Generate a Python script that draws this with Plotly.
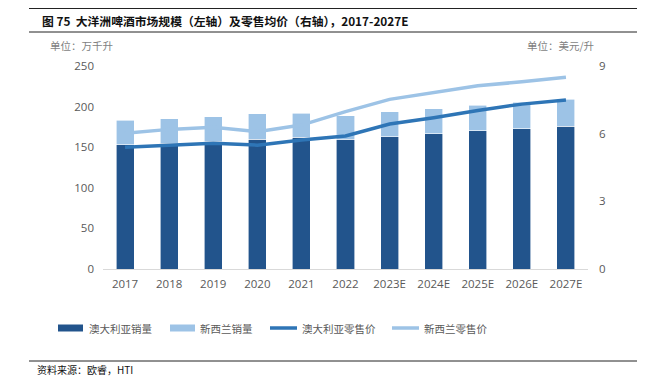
import plotly.graph_objects as go

years = ["2017", "2018", "2019", "2020", "2021", "2022", "2023E", "2024E", "2025E", "2026E", "2027E"]
au_volume = [153, 155, 157.5, 160, 162, 159.5, 163, 166.5, 170, 173, 176]
nz_volume = [30.5, 30, 30, 31, 30, 29.5, 30.5, 31, 31.5, 32.5, 33]
au_price = [5.40, 5.47, 5.57, 5.49, 5.72, 5.90, 6.43, 6.71, 7.03, 7.31, 7.49]
nz_price = [6.02, 6.19, 6.28, 6.09, 6.38, 6.98, 7.52, 7.83, 8.12, 8.30, 8.50]
left_ticks = [0, 50, 100, 150, 200, 250]
right_ticks = [0, 3, 6, 9]
series_names = ["澳大利亚销量", "新西兰销量", "澳大利亚零售价", "新西兰零售价"]

DARK_BAR = "#22548C"
LIGHT_BAR = "#9DC3E6"
DARK_LINE = "#2E75B6"
LIGHT_LINE = "#9DC3E6"
CJK = "Noto Sans CJK SC"
TICKFONT = dict(family="Open Sans, Noto Sans CJK SC", size=11.5, color="#595959")

# page is rendered with an 8px body margin; plot area spans page x 103..588, y 66..269
PX0, PX1, PY0, PY1 = 103, 588, 66, 269
def px(x):
    return (x - PX0) / (PX1 - PX0)
def py(y):
    return (PY1 - y) / (PY1 - PY0)

fig = go.Figure()
fig.add_trace(go.Bar(x=years, y=au_volume, name=series_names[0],
                     marker=dict(color=DARK_BAR, line=dict(width=0.6, color="white")), width=0.41))
fig.add_trace(go.Bar(x=years, y=nz_volume, name=series_names[1],
                     marker=dict(color=LIGHT_BAR, line=dict(width=0.6, color="white")), width=0.41))
fig.add_trace(go.Scatter(x=years, y=au_price, name=series_names[2], mode="lines", line=dict(color=DARK_LINE, width=3.5), yaxis="y2"))
fig.add_trace(go.Scatter(x=years, y=nz_price, name=series_names[3], mode="lines", line=dict(color=LIGHT_LINE, width=3.5), yaxis="y2"))

shapes = [
    dict(type="line", xref="paper", yref="paper", x0=px(29), x1=px(645), y0=py(8.5), y1=py(8.5), line=dict(color="#222222", width=1)),
    dict(type="line", xref="paper", yref="paper", x0=px(29), x1=px(645), y0=py(32), y1=py(32), line=dict(color="#222222", width=1)),
    dict(type="line", xref="paper", yref="paper", x0=px(29), x1=px(645), y0=py(361), y1=py(361), line=dict(color="#222222", width=1)),
]
annotations = [
    dict(text="<b>图 75  大洋洲啤酒市场规模（左轴）及零售均价（右轴），2017-2027E</b>", xref="paper", yref="paper",
         x=px(40), y=py(20), xanchor="left", yanchor="middle", showarrow=False,
         font=dict(family=CJK, size=11.8, color="#111111")),
    dict(text="单位：万千升", xref="paper", yref="paper", x=px(48), y=py(46),
         xanchor="left", yanchor="middle", showarrow=False, font=dict(family=CJK, size=10.5, color="#7F7F7F")),
    dict(text="单位：美元/升", xref="paper", yref="paper", x=px(596), y=py(46),
         xanchor="right", yanchor="middle", showarrow=False, font=dict(family=CJK, size=10.5, color="#7F7F7F")),
    dict(text="资料来源：欧睿，HTI", xref="paper", yref="paper", x=px(36), y=py(369), borderpad=0,
         xanchor="left", yanchor="middle", showarrow=False, font=dict(family=CJK, size=10, color="#111111")),
]

# legend keys (drawn in paper space)
LY = 328
legend_items = [
    ("rect", DARK_BAR, 58, 83, 87),
    ("rect", LIGHT_BAR, 170, 195, 198),
    ("line", DARK_LINE, 270, 297, 300),
    ("line", LIGHT_LINE, 392, 419, 422),
]
for (kind, color, x0, x1, tx), name in zip(legend_items, series_names):
    if kind == "rect":
        shapes.append(dict(type="rect", xref="paper", yref="paper", x0=px(x0), x1=px(x1), y0=py(LY + 3.5), y1=py(LY - 3.5),
                           fillcolor=color, line=dict(width=0)))
    else:
        shapes.append(dict(type="line", xref="paper", yref="paper", x0=px(x0), x1=px(x1), y0=py(LY), y1=py(LY),
                           line=dict(color=color, width=3.5)))
    annotations.append(dict(text=name, xref="paper", yref="paper", x=px(tx), y=py(LY), xanchor="left", yanchor="middle",
                            showarrow=False, font=dict(family=CJK, size=10.5, color="#595959")))

fig.update_layout(
    width=637, height=369,
    margin=dict(l=PX0 - 8, r=637 - (PX1 - 8), t=PY0 - 8, b=369 - (PY1 - 8)),
    paper_bgcolor="white", plot_bgcolor="white",
    barmode="stack",
    showlegend=False,
    xaxis=dict(type="category", showgrid=False, showline=True, linecolor="#D9D9D9", linewidth=1,
               ticks="", tickfont=TICKFONT, range=[-0.5, 10.5], ticklabelstandoff=4),
    yaxis=dict(range=[0, 250], tickvals=left_ticks, showgrid=False, zeroline=False, showline=False,
               ticks="", tickfont=TICKFONT, ticklabelstandoff=8),
    yaxis2=dict(range=[0, 9], tickvals=right_ticks, overlaying="y", side="right", showgrid=False,
                zeroline=False, showline=False, ticks="", tickfont=TICKFONT, ticklabelstandoff=10),
    shapes=shapes,
    annotations=annotations,
)

fig.write_html("out.html")
